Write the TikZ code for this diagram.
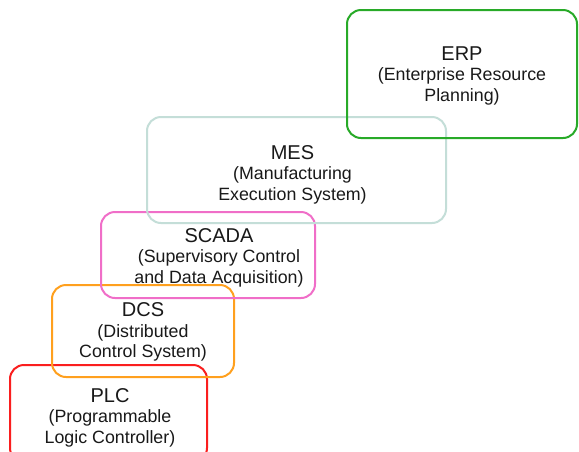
\documentclass[tikz,border=0pt]{standalone}
\usepackage{fontspec}
\setmainfont{Liberation Sans}
\definecolor{erpgreen}{RGB}{40,170,40}
\definecolor{mesteal}{RGB}{196,222,216}
\definecolor{scadapink}{RGB}{240,110,200}
\definecolor{dcsorange}{RGB}{255,160,30}
\definecolor{plcred}{RGB}{250,30,30}
\tikzset{
  layerbox/.style={draw, line width=2pt, rounded corners=14pt, fill=none},
  layertext/.style={anchor=north, inner sep=0pt, align=center, text=black!90,
    font=\fontsize{17.8}{20.5}\selectfont},
}
\newcommand{\ttl}[1]{{\fontsize{20}{20.5}\selectfont #1}}
\begin{document}
\begin{tikzpicture}[x=1pt,y=-1pt]
\useasboundingbox (0,0) rectangle (579,451);
\clip (0,0) rectangle (579,451);
\fill[white] (0,0) rectangle (579,451);
% boxes
\draw[layerbox, plcred] (10,365) rectangle (207,462) coordinate (plcbox);
\draw[layerbox, dcsorange] (52,285) rectangle (234,377) coordinate (dcsbox);
\draw[layerbox, scadapink] (101,212) rectangle (315,298) coordinate (scadabox);
\draw[layerbox, mesteal] (147,117) rectangle (446,223) coordinate (mesbox);
\draw[layerbox, erpgreen] (347,10) rectangle (577,138) coordinate (erpbox);
% texts
\node[layertext] (erp) at (462,46.5) {\ttl{ERP}\\(Enterprise Resource\\Planning)};
\node[layertext] (mes) at (292.5,145) {\ttl{MES}\\(Manufacturing\\Execution System)};
\node[layertext] (scada) at (219,228) {\ttl{SCADA}\\(Supervisory Control\\and Data Acquisition)};
\node[layertext] (dcs) at (143,302.5) {\ttl{DCS}\\(Distributed\\Control System)};
\node[layertext] (plc) at (110,388) {\ttl{PLC}\\(Programmable\\Logic Controller)};
\end{tikzpicture}
\end{document}
